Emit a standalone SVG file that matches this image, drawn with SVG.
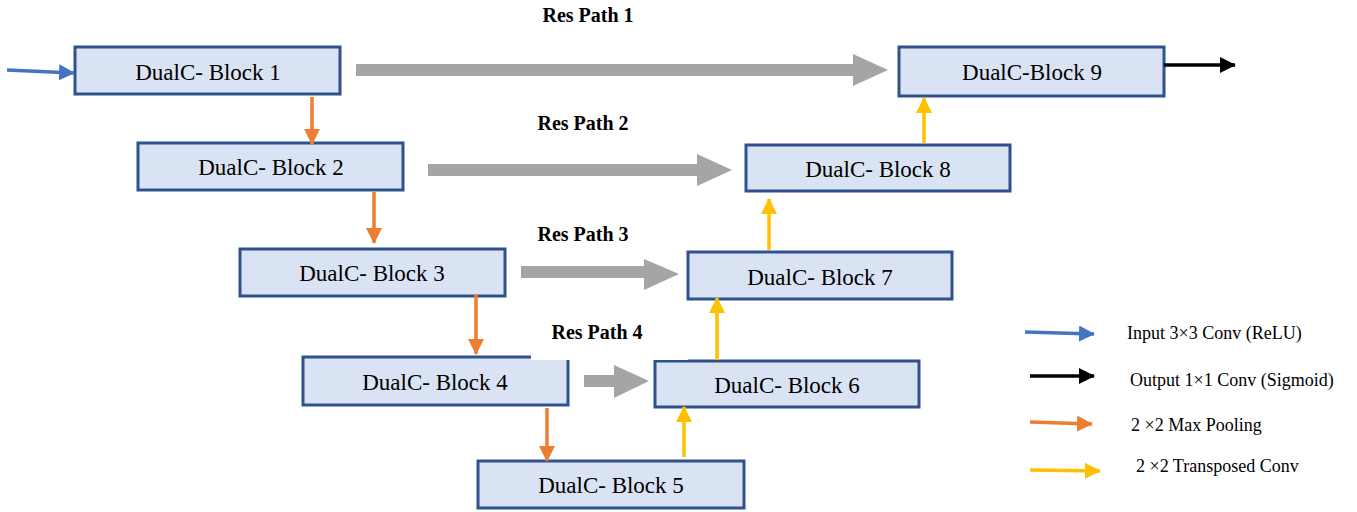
<svg xmlns="http://www.w3.org/2000/svg" width="1357" height="512" viewBox="0 0 1357 512">
<style>
.box{fill:#DAE3F3;stroke:#2F528F;stroke-width:3}
.bt{font-family:"Liberation Serif","Times New Roman",serif;font-size:23px;fill:#000;text-anchor:middle}
.rp{font-family:"Liberation Serif","Times New Roman",serif;font-size:20px;font-weight:bold;fill:#000;text-anchor:middle}
.lg{font-family:"Liberation Serif","Times New Roman",serif;font-size:18px;fill:#000}
.res{fill:#A5A5A5}
.ln{fill:none;stroke-width:3.5}
</style>
<defs>
<marker id="mb" markerUnits="userSpaceOnUse" markerWidth="16" markerHeight="16" refX="15" refY="8" orient="auto"><path d="M0,0 L16,8 L0,16 z" fill="#4472C4"/></marker>
<marker id="mk" markerUnits="userSpaceOnUse" markerWidth="16" markerHeight="16" refX="15" refY="8" orient="auto"><path d="M0,0 L16,8 L0,16 z" fill="#000"/></marker>
<marker id="mo" markerUnits="userSpaceOnUse" markerWidth="16" markerHeight="16" refX="15" refY="8" orient="auto"><path d="M0,0 L16,8 L0,16 z" fill="#ED7D31"/></marker>
<marker id="my" markerUnits="userSpaceOnUse" markerWidth="16" markerHeight="16" refX="15" refY="8" orient="auto"><path d="M0,0 L16,8 L0,16 z" fill="#FFC000"/></marker>
</defs>

<g id="block1"><rect class="box" x="75" y="47" width="265" height="47"/><text class="bt" x="208" y="80">DualC- Block 1</text></g>
<g id="block2"><rect class="box" x="138" y="143" width="265" height="47"/><text class="bt" x="271" y="175">DualC- Block 2</text></g>
<g id="block3"><rect class="box" x="240" y="249" width="265" height="47"/><text class="bt" x="372" y="281">DualC- Block 3</text></g>
<g id="block4"><rect class="box" x="303" y="357" width="265" height="48"/><text class="bt" x="435" y="390">DualC- Block 4</text></g>
<g id="block5"><rect class="box" x="478" y="461" width="266" height="47"/><text class="bt" x="611" y="493">DualC- Block 5</text></g>
<g id="block6"><rect class="box" x="655" y="361" width="264" height="46"/><text class="bt" x="787" y="393">DualC- Block 6</text></g>
<g id="block7"><rect class="box" x="688" y="252" width="264" height="47"/><text class="bt" x="820" y="285">DualC- Block 7</text></g>
<g id="block8"><rect class="box" x="746" y="145" width="264" height="46"/><text class="bt" x="878" y="177">DualC- Block 8</text></g>
<g id="block9"><rect class="box" x="899" y="47" width="265" height="49"/><text class="bt" x="1032" y="80">DualC-Block 9</text></g>

<g id="connectors">
<polygon class="res" points="356,64 853,64 853,54 888,70 853,86 853,76 356,76"/>
<polygon class="res" points="428,164 697,164 697,154 732,170 697,186 697,176 428,176"/>
<polygon class="res" points="521,266 644,266 644,259 679,274 644,290 644,278 521,278"/>
<rect x="531" y="318" width="157" height="42" fill="#fff"/>
<polygon class="res" points="584,375 614,375 614,365 649,381 614,398 614,387 584,387"/>

<line class="ln" stroke="#4472C4" x1="7" y1="70" x2="74" y2="73" marker-end="url(#mb)"/>
<line class="ln" stroke="#000" x1="1164" y1="65" x2="1235" y2="65" marker-end="url(#mk)"/>

<line class="ln" stroke="#ED7D31" x1="312" y1="97" x2="312" y2="144" marker-end="url(#mo)"/>
<line class="ln" stroke="#ED7D31" x1="374" y1="192" x2="374" y2="243" marker-end="url(#mo)"/>
<line class="ln" stroke="#ED7D31" x1="476" y1="294" x2="476" y2="354" marker-end="url(#mo)"/>
<line class="ln" stroke="#ED7D31" x1="547" y1="408" x2="547" y2="461" marker-end="url(#mo)"/>

<line class="ln" stroke="#FFC000" x1="684" y1="457" x2="684" y2="407" marker-end="url(#my)"/>
<line class="ln" stroke="#FFC000" x1="717" y1="360" x2="717" y2="298" marker-end="url(#my)"/>
<line class="ln" stroke="#FFC000" x1="769" y1="250" x2="769" y2="199" marker-end="url(#my)"/>
<line class="ln" stroke="#FFC000" x1="924" y1="143" x2="924" y2="98" marker-end="url(#my)"/>
</g>

<g id="labels">
<text class="rp" x="588" y="22">Res Path 1</text>
<text class="rp" x="583" y="130">Res Path 2</text>
<text class="rp" x="583" y="241">Res Path 3</text>
<text class="rp" x="597" y="339">Res Path 4</text>
</g>

<g id="legend">
<line class="ln" stroke="#4472C4" x1="1025" y1="332" x2="1094" y2="334" marker-end="url(#mb)"/>
<text class="lg" x="1127" y="339">Input 3×3 Conv (ReLU)</text>
<line class="ln" stroke="#000" x1="1030" y1="376" x2="1094" y2="376" marker-end="url(#mk)"/>
<text class="lg" x="1130" y="386">Output 1×1 Conv (Sigmoid)</text>
<line class="ln" stroke="#ED7D31" x1="1030" y1="422" x2="1092" y2="424" marker-end="url(#mo)"/>
<text class="lg" x="1131" y="431">2 ×2 Max Pooling</text>
<line class="ln" stroke="#FFC000" x1="1030" y1="470" x2="1100" y2="471" marker-end="url(#my)"/>
<text class="lg" x="1136" y="472">2 ×2 Transposed Conv</text>
</g>
</svg>
